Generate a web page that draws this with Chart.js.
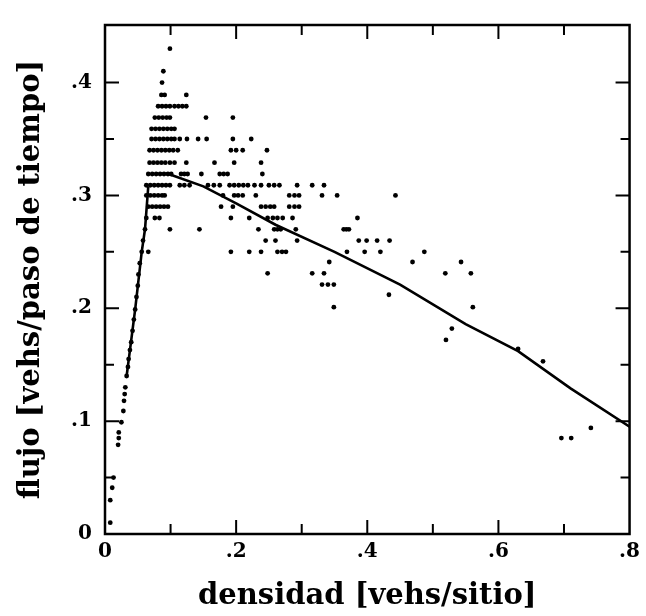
<!DOCTYPE html>
<html><head><meta charset="utf-8">
<script src="https://cdn.jsdelivr.net/npm/chart.js@4/dist/chart.umd.min.js"></script>
<style>html,body{margin:0;padding:0;background:#fff}#wrap{width:646px;height:616px;position:relative}</style>
</head><body><div id="wrap"><canvas id="c"></canvas></div>
<script>
// scatter points (densidad, flujo), grouped by rows
const densidad = [
0.099,0.089,0.087,0.086,0.091,0.124,
0.081,0.087,0.093,0.099,0.106,0.112,0.118,0.124,
0.076,0.082,0.088,0.094,0.099,0.154,0.195,
0.071,0.077,0.083,0.089,0.095,0.101,0.106,
0.071,0.077,0.083,0.089,0.095,0.101,0.106,0.114,0.125,0.142,0.155,0.195,0.223,
0.068,0.074,0.080,0.086,0.092,0.098,0.104,0.111,0.192,0.200,0.210,0.247,
0.068,0.074,0.080,0.086,0.092,0.099,0.106,0.124,0.167,0.197,0.238,
0.066,0.072,0.078,0.084,0.090,0.096,0.101,0.116,0.121,0.126,0.147,0.175,0.181,0.187,0.240,
0.063,0.069,0.075,0.081,0.087,0.093,0.099,0.114,0.121,0.129,0.157,0.166,0.175,0.190,0.197,0.204,0.211,0.218,0.228,0.238,0.250,0.258,0.266,0.293,0.316,0.334,
0.063,0.069,0.075,0.081,0.087,0.091,0.180,0.197,0.203,0.210,0.230,0.281,0.289,0.296,0.331,0.354,0.443,
0.066,0.072,0.078,0.084,0.090,0.096,0.177,0.195,0.238,0.245,0.252,0.258,0.281,0.289,0.296,
0.076,0.083,0.192,0.220,0.248,0.256,0.263,0.271,0.286,0.385,
0.099,0.144,0.234,0.258,0.263,0.268,0.291,0.364,0.368,0.372,
0.245,0.260,0.293,0.387,0.399,0.415,0.434,
0.066,0.192,0.220,0.238,0.263,0.270,0.276,0.369,0.396,0.420,0.487,
0.342,0.469,0.543,
0.248,0.316,0.334,0.519,0.558,
0.331,0.340,0.349,
0.433,0.349,0.561,
0.529,0.520,0.630,0.668,0.741,0.696,0.711,
0.008,0.008,0.011,0.013,0.020,0.021,0.021,0.025,0.028,0.029,0.030,0.031,0.033,0.035,0.036,0.038,0.040,0.042,0.044,0.046,0.048,0.050,0.051,0.053,0.056,0.058,0.061,0.063
];
const flujo = [
0.430,0.410,0.400,0.389,0.389,0.389,
0.379,0.379,0.379,0.379,0.379,0.379,0.379,0.379,
0.369,0.369,0.369,0.369,0.369,0.369,0.369,
0.359,0.359,0.359,0.359,0.359,0.359,0.359,
0.350,0.350,0.350,0.350,0.350,0.350,0.350,0.350,0.350,0.350,0.350,0.350,0.350,
0.340,0.340,0.340,0.340,0.340,0.340,0.340,0.340,0.340,0.340,0.340,0.340,
0.329,0.329,0.329,0.329,0.329,0.329,0.329,0.329,0.329,0.329,0.329,
0.319,0.319,0.319,0.319,0.319,0.319,0.319,0.319,0.319,0.319,0.319,0.319,0.319,0.319,0.319,
0.309,0.309,0.309,0.309,0.309,0.309,0.309,0.309,0.309,0.309,0.309,0.309,0.309,0.309,0.309,0.309,0.309,0.309,0.309,0.309,0.309,0.309,0.309,0.309,0.309,0.309,
0.300,0.300,0.300,0.300,0.300,0.300,0.300,0.300,0.300,0.300,0.300,0.300,0.300,0.300,0.300,0.300,0.300,
0.290,0.290,0.290,0.290,0.290,0.290,0.290,0.290,0.290,0.290,0.290,0.290,0.290,0.290,0.290,
0.280,0.280,0.280,0.280,0.280,0.280,0.280,0.280,0.280,0.280,
0.270,0.270,0.270,0.270,0.270,0.270,0.270,0.270,0.270,0.270,
0.260,0.260,0.260,0.260,0.260,0.260,0.260,
0.250,0.250,0.250,0.250,0.250,0.250,0.250,0.250,0.250,0.250,0.250,
0.241,0.241,0.241,
0.231,0.231,0.231,0.231,0.231,
0.221,0.221,0.221,
0.212,0.201,0.201,
0.182,0.172,0.164,0.153,0.094,0.085,0.085,
0.010,0.030,0.041,0.050,0.079,0.085,0.090,0.099,0.109,0.118,0.124,0.130,0.140,0.148,0.155,0.163,0.170,0.180,0.190,0.199,0.210,0.220,0.230,0.240,0.250,0.260,0.270,0.280
];
// descending fitted line
const lineaDensidad = [0.097,0.150,0.200,0.260,0.350,0.450,0.550,0.630,0.710,0.800];
const lineaFlujo    = [0.319,0.308,0.293,0.274,0.250,0.221,0.186,0.162,0.129,0.095];
// rising free-flow branch
const subidaDensidad = [0.033,0.046,0.056,0.061,0.066];
const subidaFlujo    = [0.140,0.199,0.250,0.270,0.308];
// tick labels
const xTicks = [0, 0.2, 0.4, 0.6, 0.8];
const xTickLabels = ['0', '.2', '.4', '.6', '.8'];
const yTicks = [0, 0.1, 0.2, 0.3, 0.4];
const yTickLabels = ['0', '.1', '.2', '.3', '.4'];
const xMarks = [0.1,0.2,0.3,0.4,0.5,0.6,0.7];
const yMarks = [0.05,0.1,0.15,0.2,0.25,0.3,0.35,0.4];

if (densidad.length !== flujo.length) console.error('length mismatch', densidad.length, flujo.length);

const pts = densidad.map((x,i)=>({x, y: flujo[i]}));
const linea = lineaDensidad.map((x,i)=>({x, y: lineaFlujo[i]}));
const subida = subidaDensidad.map((x,i)=>({x, y: subidaFlujo[i]}));

const frame = {
  id: 'frame',
  afterDatasetsDraw(chart) {
    const {ctx, chartArea: a, scales: {x, y}} = chart;
    ctx.save();
    ctx.strokeStyle = '#000';
    ctx.lineWidth = 2.5;
    ctx.strokeRect(a.left, a.top, a.right - a.left, a.bottom - a.top);
    ctx.lineWidth = 2;
    ctx.beginPath();
    xMarks.forEach(v => {
      const px = x.getPixelForValue(v);
      const len = (Math.round(v*10) % 2 === 0) ? 14 : 10;
      ctx.moveTo(px, a.bottom); ctx.lineTo(px, a.bottom - len);
      ctx.moveTo(px, a.top); ctx.lineTo(px, a.top + len);
    });
    yMarks.forEach(v => {
      const py = y.getPixelForValue(v);
      const len = (Math.round(v*100) % 10 === 0) ? 14 : 9;
      ctx.moveTo(a.left, py); ctx.lineTo(a.left + len, py);
      ctx.moveTo(a.right, py); ctx.lineTo(a.right - len, py);
    });
    ctx.stroke();
    ctx.restore();
  }
};

const tickFont = {family: 'DejaVu Serif', weight: 'bold', size: 20};
const titleFont = {family: 'DejaVu Serif', weight: 'bold', size: 29};

new Chart(document.getElementById('c'), {
  type: 'scatter',
  data: {
    datasets: [
      {data: pts, backgroundColor: '#000', borderColor: '#000', pointRadius: 2.4, pointBorderWidth: 0, showLine: false},
      {data: linea, showLine: true, borderColor: '#000', borderWidth: 2.6, pointRadius: 0, fill: false, tension: 0},
      {data: subida, showLine: true, borderColor: '#000', borderWidth: 2.6, pointRadius: 0, fill: false, tension: 0}
    ]
  },
  options: {
    responsive: true,
    maintainAspectRatio: false,
    animation: false,
    layout: {padding: {top: 15, right: 14, left: 0, bottom: 0}},
    plugins: {legend: {display: false}, tooltip: {enabled: false}},
    scales: {
      x: {
        type: 'linear', min: 0, max: 0.8,
        afterBuildTicks: s => { s.ticks = xTicks.map(v => ({value: v})); },
        afterFit: s => { s.height = 82; },
        grid: {display: false, drawTicks: false},
        border: {display: false},
        ticks: {color: '#000', font: tickFont, padding: 6, maxRotation: 0, autoSkip: false,
          callback: (v) => { const i = xTicks.findIndex(t => Math.abs(t - v) < 1e-9); return i >= 0 ? xTickLabels[i] : ''; }},
        title: {display: true, text: 'densidad [vehs/sitio]', color: '#000', font: titleFont, padding: {top: 0, bottom: 2}}
      },
      y: {
        type: 'linear', min: 0, max: 0.451,
        afterBuildTicks: s => { s.ticks = yTicks.map(v => ({value: v})); },
        afterFit: s => { s.width = 105; },
        grid: {display: false, drawTicks: false},
        border: {display: false},
        ticks: {color: '#000', font: tickFont, padding: 13, autoSkip: false,
          callback: (v) => { const i = yTicks.findIndex(t => Math.abs(t - v) < 1e-9); return i >= 0 ? yTickLabels[i] : ''; }},
        title: {display: true, text: 'flujo [vehs/paso de tiempo]', color: '#000', font: titleFont, padding: {top: 14, bottom: 0}}
      }
    }
  },
  plugins: [frame]
});
</script>
</body></html>
